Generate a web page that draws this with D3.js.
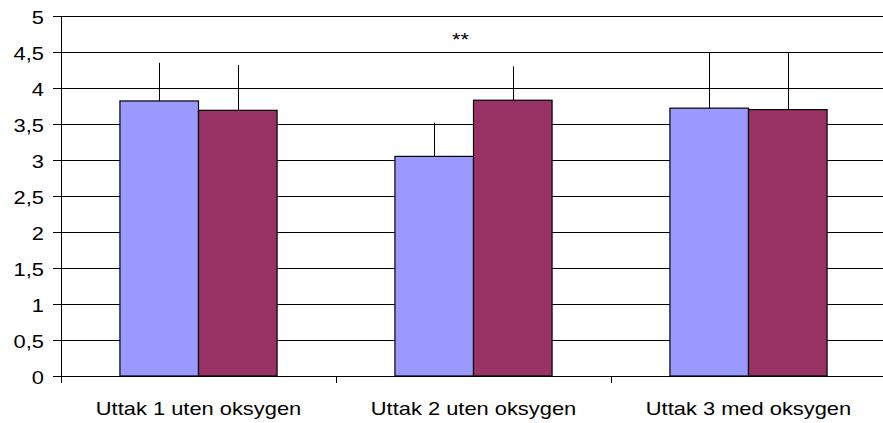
<!DOCTYPE html>
<html>
<head>
<meta charset="utf-8">
<script src="https://cdn.jsdelivr.net/npm/d3@7"></script>
<style>
  html, body { margin: 0; padding: 0; background: #fff; }
  svg { display: block; }
  text { font-family: "Liberation Sans", Arial, sans-serif; fill: #000; }
</style>
</head>
<body>
<svg id="chart" width="883" height="423"></svg>
<script>
const categories = ["Uttak 1 uten oksygen", "Uttak 2 uten oksygen", "Uttak 3 med oksygen"];
const seriesNames = ["A", "B"];
const seriesA = [3.82, 3.05, 3.72];
const seriesB = [3.69, 3.83, 3.70];
const errA = [0.53, 0.47, 0.78];
const errB = [0.63, 0.47, 0.80];
const yTicks = [0, 0.5, 1, 1.5, 2, 2.5, 3, 3.5, 4, 4.5, 5];
const colors = ["#9999FF", "#993366"];
const annotation = { text: "**", category: "Uttak 2 uten oksygen", value: 4.76 };

(function () {
const svg = d3.select("#chart");
const mLeft = 61, mRight = 886, mTop = 16, mBottom = 376;
const sx = 1.25, fs = 17.5;

const y = d3.scaleLinear().domain([0, 5]).range([mBottom, mTop]);
const x0 = d3.scaleBand().domain(categories).range([mLeft, mRight]).padding(0);
const x1 = d3.scaleBand().domain(seriesNames).range([0, x0.bandwidth()]).paddingInner(0).paddingOuter(0.75);

// gridlines
svg.append("g").selectAll("line").data(yTicks.filter(d => d > 0)).join("line")
  .attr("x1", mLeft).attr("x2", mRight)
  .attr("y1", d => Math.round(y(d)) + 0.5).attr("y2", d => Math.round(y(d)) + 0.5)
  .attr("stroke", "#000").attr("stroke-width", 1);

// y axis
const yAxisG = svg.append("g");
yAxisG.append("line").attr("x1", mLeft + 0.5).attr("x2", mLeft + 0.5)
  .attr("y1", mTop).attr("y2", mBottom + 7).attr("stroke", "#000");
yAxisG.selectAll("line.tick").data(yTicks).join("line").attr("class", "tick")
  .attr("x1", mLeft - 8).attr("x2", mLeft)
  .attr("y1", d => Math.round(y(d)) + 0.5).attr("y2", d => Math.round(y(d)) + 0.5)
  .attr("stroke", "#000");
const fmt = d => String(d).replace(".", ",");
yAxisG.selectAll("text").data(yTicks).join("text")
  .attr("transform", d => `translate(44,${y(d) + 1.5}) scale(${sx},1)`)
  .attr("dy", "0.35em").attr("text-anchor", "end").attr("font-size", fs)
  .text(fmt);

// bars
const data = categories.map((c, i) => ({ c, vals: [
  { s: "A", v: seriesA[i], e: errA[i], col: colors[0] },
  { s: "B", v: seriesB[i], e: errB[i], col: colors[1] }] }));

const groups = svg.append("g").selectAll("g").data(data).join("g")
  .attr("transform", d => `translate(${x0(d.c)},0)`);

groups.selectAll("line.err").data(d => d.vals).join("line").attr("class", "err")
  .attr("x1", d => Math.round(x1(d.s) + x1.bandwidth() / 2) + 0.5)
  .attr("x2", d => Math.round(x1(d.s) + x1.bandwidth() / 2) + 0.5)
  .attr("y1", d => y(d.v)).attr("y2", d => y(d.v + d.e))
  .attr("stroke", "#000").attr("stroke-width", 1);

groups.selectAll("rect").data(d => d.vals).join("rect")
  .attr("x", d => x1(d.s)).attr("width", x1.bandwidth())
  .attr("y", d => y(d.v)).attr("height", d => y(0) - y(d.v))
  .attr("fill", d => d.col).attr("stroke", "#000").attr("stroke-width", 1.2);

// x axis
const xAxisG = svg.append("g");
xAxisG.append("line").attr("x1", mLeft - 8).attr("x2", mRight)
  .attr("y1", mBottom + 0.5).attr("y2", mBottom + 0.5).attr("stroke", "#000");
const xTickPos = categories.map(c => x0(c)).concat([mRight]);
xAxisG.selectAll("line.tick").data(xTickPos).join("line").attr("class", "tick")
  .attr("x1", d => Math.round(d) + 0.5).attr("x2", d => Math.round(d) + 0.5)
  .attr("y1", mBottom).attr("y2", mBottom + 7).attr("stroke", "#000");
xAxisG.selectAll("text").data(categories).join("text")
  .attr("transform", d => `translate(${x0(d) + x0.bandwidth() / 2},415) scale(${sx},1)`)
  .attr("text-anchor", "middle").attr("font-size", fs)
  .text(d => d);

// annotation
svg.append("text")
  .attr("transform", `translate(${x0(annotation.category) + x0.bandwidth() / 2 - 13},${y(annotation.value) + 13}) scale(${sx},1)`)
  .attr("text-anchor", "middle").attr("font-size", fs)
  .text(annotation.text);
})();
</script>
</body>
</html>
